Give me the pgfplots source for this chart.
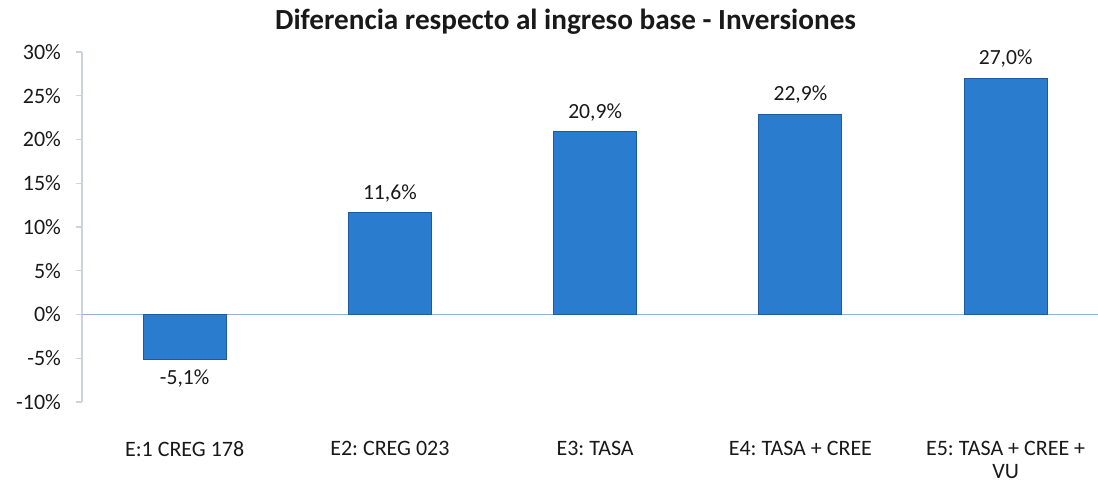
\documentclass[border=0pt]{standalone}
\usepackage{pgfplots}
\pgfplotsset{compat=1.18}
\usepackage{fontspec}
\setmainfont{Carlito}
\frenchspacing
\definecolor{barblue}{RGB}{42,124,206}
\definecolor{baredge}{RGB}{30,90,160}
\definecolor{zeroline}{RGB}{150,175,210}
\definecolor{axgray}{RGB}{205,210,220}
\definecolor{txt}{RGB}{25,25,25}
\begin{document}
\begin{tikzpicture}
\useasboundingbox (-41pt,-42.5pt) rectangle (508pt,201pt);
\begin{axis}[
  at={(0,0)}, anchor=south west,
  scale only axis, width=508pt, height=175pt,
  xmin=-0.5, xmax=4.45, ymin=-10, ymax=30,
  ybar, bar width=41.5pt,
  /pgf/number format/assume math mode=true,
  axis lines=left,
  x axis line style={draw=none},
  y axis line style={draw=axgray, line width=0.6pt, -},
  axis line style={-},
  xtick={0,1,2,3,4},
  xticklabels={E:1 CREG 178, E2: CREG 023, E3: TASA, E4: TASA + CREE, {E5: TASA + CREE +\\VU}},
  xtick style={draw=none},
  xticklabel style={font=\fontsize{11}{11.5}\selectfont, text=txt, align=center, anchor=north, yshift=-13pt},
  ytick={-10,-5,0,5,10,15,20,25,30},
  yticklabel={\pgfmathprintnumber{\tick}\%},
  yticklabel style={font=\fontsize{11}{12}\selectfont, text=txt, xshift=-4pt},
  ytick style={draw=axgray, line width=0.6pt},
  tick align=outside, major tick length=3pt,
  title={\textbf{Diferencia respecto al ingreso base - Inversiones}},
  title style={font=\fontsize{14.6}{16}\selectfont, text=txt, at={(0.476,1)}, anchor=center, yshift=9pt},
  nodes near coords={\pgfmathprintnumber[fixed,fixed zerofill,precision=1,use comma]{\pgfplotspointmeta}\%},
  nodes near coords align={vertical},
  every node near coord/.append style={font=\fontsize{10.8}{12}\selectfont, text=txt, inner sep=5pt},
  clip=false,
]
\draw[zeroline, line width=0.8pt] (axis cs:-0.5,0) -- (axis cs:4.45,0);
\addplot[fill=barblue, draw=baredge, line width=0.5pt] coordinates {(0,-5.1) (1,11.6) (2,20.9) (3,22.9) (4,27.0)};
\end{axis}
\end{tikzpicture}
\end{document}
